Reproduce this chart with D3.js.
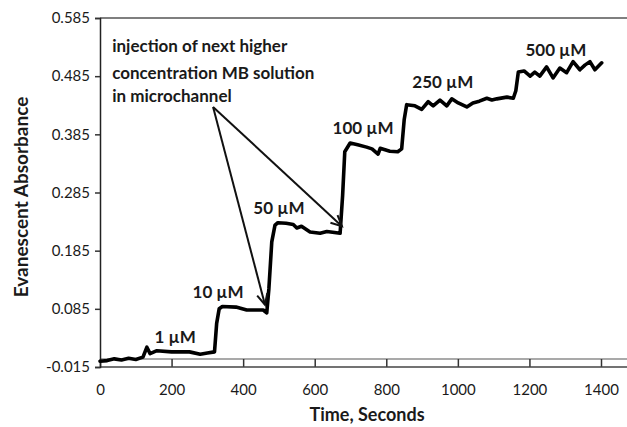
<!DOCTYPE html>
<html><head><meta charset="utf-8">
<script src="https://cdn.jsdelivr.net/npm/d3@7"></script>
<style>body{margin:0;background:#fff;} svg{display:block;} text{font-family:Lato,"Open Sans",sans-serif;fill:#1a1a1a;}</style>
</head><body><svg id="c" width="627" height="427"></svg>
<script>
const times = [0,20,40,60,80,100,120,131,140,159,200,250,280,300,320,326,333,342,380,410,456,466,472,480,489,497,520,540,550,563,587,615,634,671,678,684,699,720,745,760,777,783,810,832,843,850,857,880,899,917,931,950,969,983,1001,1025,1042,1060,1081,1095,1109,1137,1155,1162,1169,1185,1202,1215,1229,1248,1266,1285,1304,1322,1341,1355,1369,1383,1402];
const absorbance = [-0.005,-0.004,-0.001,-0.003,0.000,-0.002,0.002,0.019,0.008,0.013,0.011,0.011,0.007,0.009,0.011,0.060,0.085,0.089,0.088,0.083,0.083,0.078,0.120,0.200,0.229,0.233,0.232,0.230,0.224,0.227,0.217,0.215,0.218,0.215,0.280,0.355,0.370,0.367,0.363,0.360,0.351,0.361,0.356,0.355,0.360,0.410,0.436,0.434,0.428,0.441,0.434,0.444,0.434,0.446,0.439,0.432,0.439,0.442,0.447,0.444,0.446,0.449,0.447,0.460,0.492,0.494,0.485,0.492,0.485,0.501,0.482,0.499,0.491,0.510,0.496,0.504,0.510,0.496,0.508];
const xTicks = [0,200,400,600,800,1000,1200,1400];
const yTicks = [-0.015,0.085,0.185,0.285,0.385,0.485,0.585];
const labelText = ["1 µM","10 µM","50 µM","100 µM","250 µM","500 µM"];
const labelTime = [210,330,500,735,958,1274];
const labelValue = [0.0366,0.114,0.260,0.396,0.475,0.530];
const noteLines = ["injection of next higher","concentration MB solution","in microchannel"];
const noteTime = 34;
const noteValue = [0.537,0.492,0.451];
const arrowFrom = [316,0.432];
const arrowTo = [[461,0.092],[676,0.227]];

const svg = d3.select("#c");
const x = d3.scaleLinear().domain([0,1400]).range([100,601]);
const y = d3.scaleLinear().domain([-0.015,0.585]).range([367,18]);
const W = 627;

svg.append("line").attr("x1",100).attr("x2",W).attr("y1",y(0.585)).attr("y2",y(0.585)).attr("stroke","#555").attr("stroke-width",1.5);
svg.append("line").attr("x1",100).attr("x2",W).attr("y1",y(-0.015)-8).attr("y2",y(-0.015)-8).attr("stroke","#555").attr("stroke-width",1.2);

const xa = svg.append("g").attr("transform",`translate(0,${y(-0.015)})`)
  .call(d3.axisBottom(x).tickValues(xTicks).tickSize(-8).tickPadding(17).tickFormat(d3.format("d")));
xa.select(".domain").remove();
xa.append("line").attr("x1",100).attr("x2",W).attr("stroke","#444").attr("stroke-width",1.5);
xa.selectAll(".tick line").attr("stroke","#333").attr("stroke-width",1.5);
xa.selectAll("text").style("font-size","15px").attr("fill","#1a1a1a");

const ya = svg.append("g").attr("transform","translate(100,0)")
  .call(d3.axisLeft(y).tickValues(yTicks).tickSize(5).tickPadding(5).tickFormat(d=>d3.format(".3f")(d).replace("\u2212","-")));
ya.select(".domain").attr("stroke","#222").attr("stroke-width",1.5);
ya.selectAll(".tick line").attr("stroke","#333").attr("stroke-width",1.5);
ya.selectAll("text").style("font-size","15px").attr("fill","#1a1a1a");

const data = times.map((t,i)=>[t,absorbance[i]]);
svg.append("path").datum(data)
  .attr("d", d3.line().x(d=>x(d[0])).y(d=>y(d[1])))
  .attr("fill","none").attr("stroke","#000").attr("stroke-width",3.6)
  .attr("stroke-linejoin","round").attr("stroke-linecap","round");

labelText.forEach((t,i)=>{
  svg.append("text").attr("x",x(labelTime[i])).attr("y",y(labelValue[i]))
    .attr("text-anchor","middle").attr("dominant-baseline","central")
    .style("font-size","17px").style("font-weight","bold").text(t);
});
noteLines.forEach((t,i)=>{
  svg.append("text").attr("x",x(noteTime)).attr("y",y(noteValue[i]))
    .attr("dominant-baseline","central")
    .style("font-size","17px").style("font-weight","bold").text(t);
});

arrowTo.forEach(p=>{
  const x0=x(arrowFrom[0]), y0=y(arrowFrom[1]), x1=x(p[0]), y1=y(p[1]);
  svg.append("line").attr("x1",x0).attr("y1",y0).attr("x2",x1).attr("y2",y1).attr("stroke","#111").attr("stroke-width",2);
  const a=Math.atan2(y1-y0,x1-x0), L=12, s=0.45;
  const pts=[[x1-L*Math.cos(a-s),y1-L*Math.sin(a-s)],[x1,y1],[x1-L*Math.cos(a+s),y1-L*Math.sin(a+s)]];
  svg.append("path").attr("d",d3.line()(pts)).attr("fill","none").attr("stroke","#111").attr("stroke-width",2);
});

svg.append("text").attr("x",367).attr("y",414).attr("text-anchor","middle").attr("dominant-baseline","central")
  .style("font-size","18px").style("font-weight","bold").text("Time, Seconds");
svg.append("text").attr("transform","translate(20,197) rotate(-90)").attr("text-anchor","middle").attr("dominant-baseline","central")
  .style("font-size","19px").style("font-weight","bold").text("Evanescent Absorbance");
</script></body></html>
